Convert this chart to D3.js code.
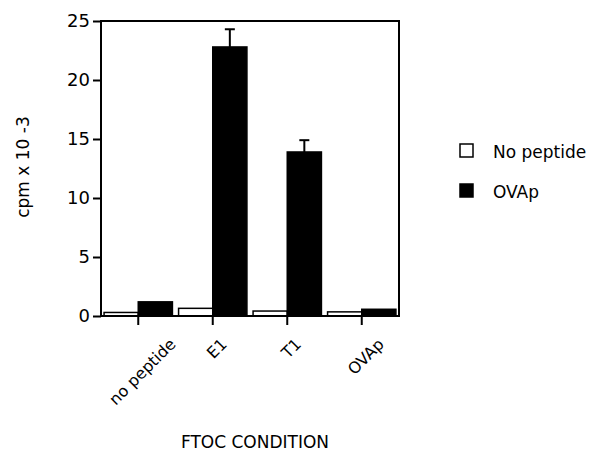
<!DOCTYPE html>
<html><head><meta charset="utf-8">
<script src="https://cdn.jsdelivr.net/npm/d3@7"></script>
<style>body{margin:0;background:#fff}svg{font-family:"DejaVu Sans",sans-serif}</style>
</head><body><svg id="c" width="600" height="462"></svg>
<script>
const categories = ["no peptide", "E1", "T1", "OVAp"];
const seriesNames = ["No peptide", "OVAp"];
const noPeptide = [0.3, 0.65, 0.42, 0.35];
const ovap = [1.2, 22.8, 13.9, 0.57];
const ovapErr = [0, 1.5, 1.0, 0];
const yTicks = [0, 5, 10, 15, 20, 25];

const svg = d3.select("#c");
const m = {l: 101, r: 399, t: 21, b: 316};
const x = d3.scaleBand().domain(categories).range([m.l, m.r]).padding(0);
const inner = d3.scaleBand().domain(seriesNames).range([0, x.bandwidth()]).paddingOuter(0.09).paddingInner(0);
const y = d3.scaleLinear().domain([0, 25]).range([m.b, m.t]);
const series = [noPeptide, ovap];
const fills = ["#fff", "#000"];

series.forEach((vals, si) => {
  svg.append("g").selectAll("rect").data(vals).join("rect")
    .attr("x", (d, i) => x(categories[i]) + inner(seriesNames[si]))
    .attr("y", d => y(d))
    .attr("width", inner.bandwidth())
    .attr("height", d => y(0) - y(d))
    .attr("fill", fills[si]).attr("stroke", "#000").attr("stroke-width", 1.5);
});
const eg = svg.append("g").attr("stroke", "#000").attr("stroke-width", 2);
ovap.forEach((v, i) => {
  if (!ovapErr[i]) return;
  const cx = x(categories[i]) + inner(seriesNames[1]) + inner.bandwidth() / 2;
  eg.append("line").attr("x1", cx).attr("x2", cx).attr("y1", y(v)).attr("y2", y(v + ovapErr[i]));
  eg.append("line").attr("x1", cx - 5).attr("x2", cx + 5).attr("y1", y(v + ovapErr[i])).attr("y2", y(v + ovapErr[i]));
});

svg.append("rect").attr("x", m.l).attr("y", m.t).attr("width", m.r - m.l).attr("height", m.b - m.t)
  .attr("fill", "none").attr("stroke", "#000").attr("stroke-width", 2);

const ya = svg.append("g").attr("transform", `translate(${m.l},0)`)
  .call(d3.axisLeft(y).tickValues(yTicks).tickSize(8).tickPadding(3));
ya.select(".domain").remove();
ya.selectAll("line").attr("stroke-width", 2);
ya.selectAll("text").attr("font-size", 18).attr("font-family", "DejaVu Sans").attr("fill", "#000");

const xa = svg.append("g").attr("transform", `translate(0,${m.b})`)
  .call(d3.axisBottom(x).tickSize(9).tickPadding(0));
xa.select(".domain").remove();
xa.selectAll("line").attr("stroke-width", 2);
xa.selectAll("text").attr("font-size", 16).attr("font-family", "DejaVu Sans").attr("fill", "#000")
  .attr("text-anchor", "middle").attr("dy", "0.35em")
  .attr("y", 0)
  .attr("transform", function() {
    const L = this.getComputedTextLength();
    const half = (L * 0.707 + 16 * 0.75 * 0.707) / 2;
    return `translate(4,${21 + half}) rotate(-45)`;
  });

svg.append("text").attr("transform", "translate(29,167) rotate(-90)")
  .attr("text-anchor", "middle").attr("font-size", 17).text("cpm x 10 -3");
svg.append("text").attr("x", 255).attr("y", 448).attr("text-anchor", "middle")
  .attr("font-size", 17).text("FTOC CONDITION");

const lg = svg.append("g");
seriesNames.forEach((n, i) => {
  lg.append("rect").attr("x", 460).attr("y", 144 + i * 40).attr("width", 13).attr("height", 13)
    .attr("fill", fills[i]).attr("stroke", "#000").attr("stroke-width", 1.5);
  lg.append("text").attr("x", 493).attr("y", 158 + i * 40).attr("font-size", 17).text(n);
});
</script></body></html>
